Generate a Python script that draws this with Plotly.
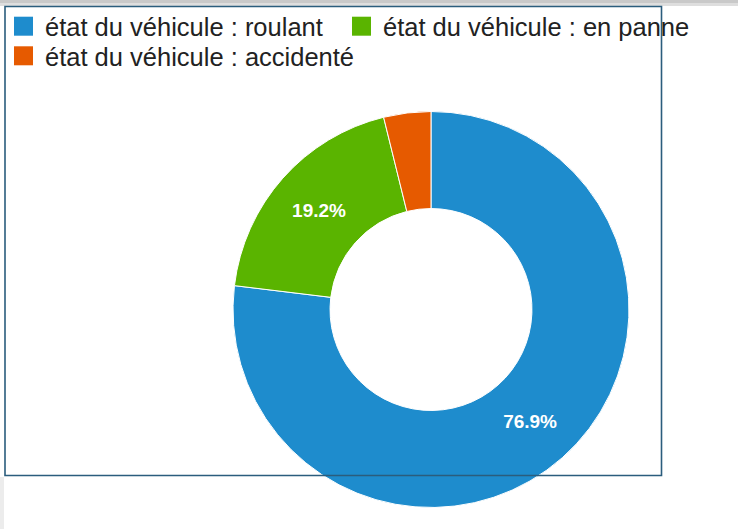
import plotly.graph_objects as go

# ---- data ----
labels = ["état du véhicule : roulant", "état du véhicule : en panne", "état du véhicule : accidenté"]
values = [20, 5, 1]
colors = ["#1e8ccd", "#5ab400", "#e65a00"]
show_text = [True, True, False]

W, H = 738, 529

def px(x):
    return x / W

def py(y):
    return (H - y) / H

# pie geometry (pixels)
cx, cy, R = 431, 309.5, 198

fig = go.Figure()
fig.add_trace(go.Pie(
    labels=labels,
    values=values,
    marker=dict(colors=colors, line=dict(color="white", width=1)),
    hole=0.51,
    sort=False,
    direction="clockwise",
    rotation=0,
    texttemplate=["<b>%{percent:.1%}</b>" if s else "" for s in show_text],
    textposition="inside",
    insidetextorientation="horizontal",
    textfont=dict(family="Liberation Sans, Arial, sans-serif", size=19, color="white"),
    domain=dict(x=[px(cx - R), px(cx + R)], y=[py(cy + R), py(cy - R)]),
    showlegend=False,
    hoverinfo="label+percent",
))

shapes = []
annotations = []

# top grey band
shapes.append(dict(type="rect", xref="paper", yref="paper", x0=0, x1=1, y0=py(3), y1=py(0),
                   fillcolor="#c9c9c9", line=dict(width=0), layer="above"))
shapes.append(dict(type="rect", xref="paper", yref="paper", x0=0, x1=1, y0=py(6), y1=py(3),
                   fillcolor="#dedede", line=dict(width=0), layer="above"))
# left grey strip below the box
shapes.append(dict(type="rect", xref="paper", yref="paper", x0=0, x1=px(4), y0=0, y1=py(477),
                   fillcolor="#ececec", line=dict(width=0), layer="above"))
# frame
shapes.append(dict(type="rect", xref="paper", yref="paper", x0=px(5), x1=px(661.5), y0=py(475.5), y1=py(6.5),
                   fillcolor="rgba(0,0,0,0)", line=dict(color="#2b5d7d", width=1.6), layer="above"))

# manual legend
legend_pos = [(14, 26.2), (352, 26.2), (14, 55.8)]
sq = 19
for (lx, ly), lab, col in zip(legend_pos, labels, colors):
    shapes.append(dict(type="rect", xref="paper", yref="paper",
                       x0=px(lx), x1=px(lx + sq), y0=py(ly + sq / 2), y1=py(ly - sq / 2),
                       fillcolor=col, line=dict(width=0), layer="above"))
    annotations.append(dict(xref="paper", yref="paper", x=px(lx + 28.5), y=py(ly + 1.2),
                            xanchor="left", yanchor="middle", text=lab, showarrow=False,
                            font=dict(family="Liberation Sans, Arial, sans-serif", size=25.5, color="#222222")))

fig.update_layout(
    width=W, height=H,
    margin=dict(l=0, r=0, t=0, b=0),
    paper_bgcolor="white",
    plot_bgcolor="white",
    shapes=shapes,
    annotations=annotations,
)

fig.write_html("out.html", config={"displayModeBar": False})

# remove the default page margin so the figure fills the window exactly
with open("out.html", "r", encoding="utf-8") as f:
    html = f.read()
html = html.replace("<head>", "<head><style>html,body{margin:0;padding:0;overflow:hidden;}</style>", 1)
with open("out.html", "w", encoding="utf-8") as f:
    f.write(html)
